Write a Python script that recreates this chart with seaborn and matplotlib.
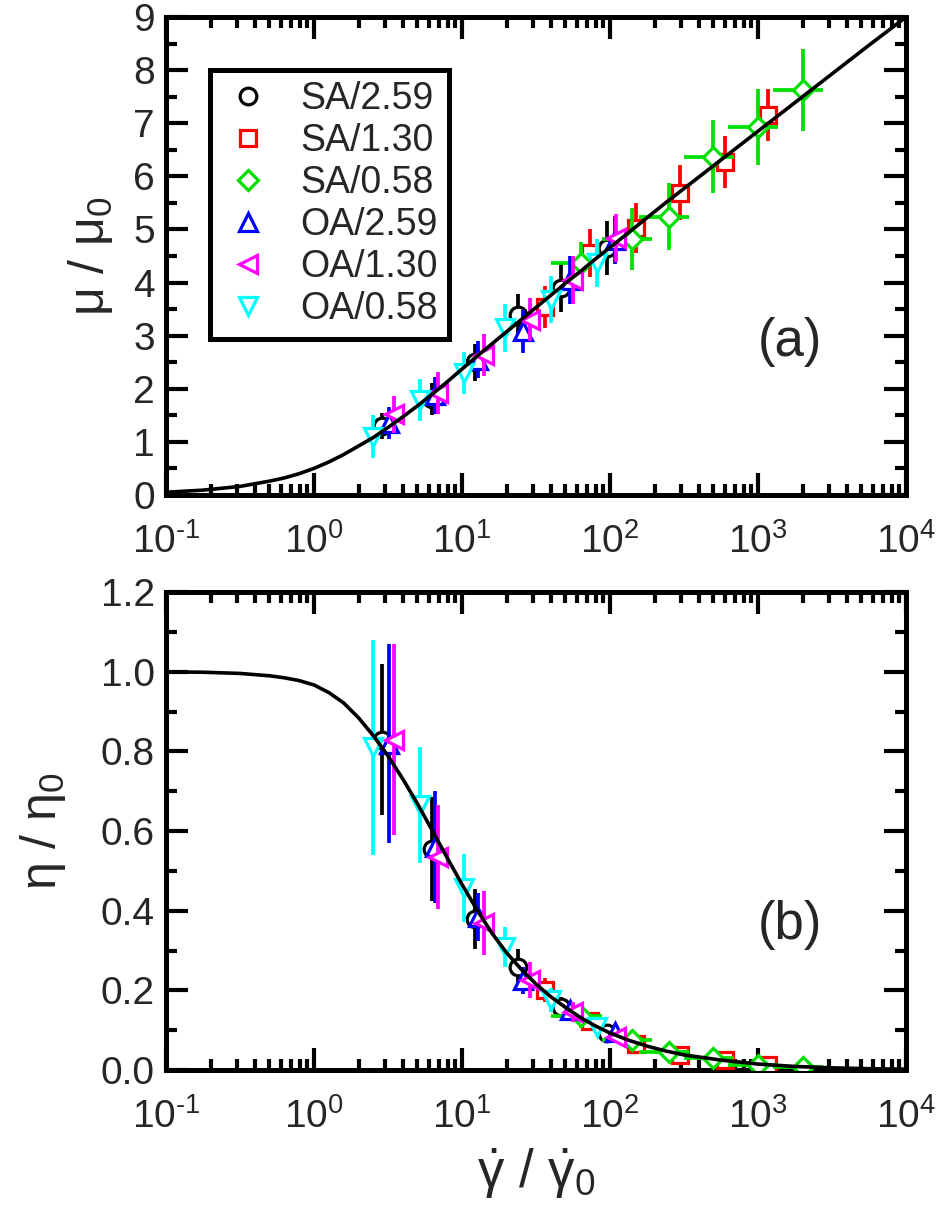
import numpy as np
import pandas as pd
import matplotlib
matplotlib.use("Agg")
import matplotlib.pyplot as plt
import seaborn as sns
from matplotlib.ticker import LogLocator, MultipleLocator, NullFormatter, FormatStrFormatter, FuncFormatter
from matplotlib.lines import Line2D

# ---------------- data ----------------
curve_x = [0.1, 0.178, 0.316, 0.501, 0.631, 0.794, 1.0, 1.259, 1.585, 1.995, 2.512, 3.162,
           3.981, 5.012, 6.31, 7.943, 10.0, 12.59, 15.85, 19.95, 25.12, 31.62, 39.81, 50.12,
           63.1, 79.43, 100.0, 133.4, 177.8, 237.1, 316.2, 562.3, 1000.0, 1778.0, 3162.0,
           5623.0, 10000.0]
curve_mu = [0.05, 0.09, 0.16, 0.26, 0.32, 0.40, 0.50, 0.62, 0.76, 0.92, 1.08, 1.27,
            1.47, 1.68, 1.90, 2.13, 2.37, 2.61, 2.84, 3.07, 3.30, 3.53, 3.76, 3.99,
            4.21, 4.44, 4.66, 4.94, 5.22, 5.50, 5.77, 6.31, 6.85, 7.39, 7.93,
            8.47, 9.0]
curve_eta = [1.000, 0.999, 0.996, 0.990, 0.985, 0.978, 0.967, 0.948, 0.922, 0.885, 0.840, 0.789,
             0.731, 0.668, 0.601, 0.533, 0.466, 0.403, 0.345, 0.295, 0.253, 0.216, 0.184, 0.157,
             0.132, 0.111, 0.093, 0.075, 0.060, 0.048, 0.038, 0.025, 0.015, 0.009, 0.0055,
             0.0033, 0.002]

labels = ["SA/2.59", "SA/1.30", "SA/0.58", "OA/2.59", "OA/1.30", "OA/0.58"]
colors = ["#000000", "#ff0000", "#00e000", "#0000ff", "#ff00ff", "#00ffff"]
markers = ["o", "s", "D", "^", "<", "v"]

sa259_x = [2.9, 6.3, 12.3, 24.0, 47.0, 96.0]
sa259_xerr = [0.1, 0.25, 0.5, 1.0, 2.0, 4.0]
sa259_mu = [1.30, 1.80, 2.50, 3.39, 3.90, 4.65]
sa259_mu_err = [0.25, 0.30, 0.35, 0.40, 0.45, 0.50]
sa259_eta = [0.83, 0.555, 0.38, 0.26, 0.158, 0.093]
sa259_eta_err = [0.19, 0.13, 0.075, 0.045, 0.025, 0.012]

sa130_x = [36.5, 73.0, 149.0, 297.0, 598.0, 1170.0]
sa130_xerr = [2.5, 5.0, 10.0, 20.0, 40.0, 80.0]
sa130_mu = [3.54, 4.56, 5.02, 5.69, 6.27, 7.16]
sa130_mu_err = [0.40, 0.45, 0.47, 0.52, 0.49, 0.49]
sa130_eta = [0.20, 0.122, 0.066, 0.039, 0.024, 0.012]
sa130_eta_err = [0.03, 0.018, 0.010, 0.006, 0.004, 0.002]

sa058_x = [64.0, 140.0, 250.0, 500.0, 1000.0, 2000.0]
sa058_xerr = [24.0, 52.0, 92.0, 185.0, 370.0, 740.0]
sa058_mu = [4.37, 4.82, 5.24, 6.37, 6.93, 7.63]
sa058_mu_err = [0.40, 0.58, 0.63, 0.69, 0.72, 0.77]
sa058_eta = [0.135, 0.075, 0.046, 0.030, 0.012, 0.007]
sa058_eta_err = [0.030, 0.012, 0.008, 0.005, 0.003, 0.002]

oa259_x = [3.2, 6.6, 12.8, 25.7, 54.0, 108.0]
oa259_xerr = [0.1, 0.25, 0.5, 1.0, 2.0, 4.0]
oa259_mu = [1.35, 1.88, 2.55, 3.08, 4.05, 4.80]
oa259_mu_err = [0.30, 0.35, 0.35, 0.40, 0.45, 0.45]
oa259_eta = [0.82, 0.56, 0.385, 0.225, 0.151, 0.095]
oa259_eta_err = [0.25, 0.14, 0.06, 0.035, 0.020, 0.012]

oa130_x = [3.45, 6.9, 14.0, 28.9, 56.0, 110.0]
oa130_xerr = [0.1, 0.25, 0.5, 1.0, 2.0, 4.0]
oa130_mu = [1.52, 1.92, 2.64, 3.30, 4.05, 4.84]
oa130_mu_err = [0.35, 0.40, 0.40, 0.40, 0.45, 0.45]
oa130_eta = [0.83, 0.535, 0.369, 0.226, 0.146, 0.083]
oa130_eta_err = [0.24, 0.13, 0.08, 0.045, 0.025, 0.013]

oa058_x = [2.5, 5.2, 10.3, 19.5, 40.0, 81.5]
oa058_xerr = [0.1, 0.2, 0.4, 0.8, 1.6, 3.0]
oa058_mu = [1.10, 1.79, 2.30, 3.15, 3.68, 4.37]
oa058_mu_err = [0.40, 0.40, 0.40, 0.45, 0.45, 0.45]
oa058_eta = [0.81, 0.666, 0.457, 0.31, 0.176, 0.108]
oa058_eta_err = [0.27, 0.145, 0.085, 0.05, 0.03, 0.015]

xs = [sa259_x, sa130_x, sa058_x, oa259_x, oa130_x, oa058_x]
xerrs = [sa259_xerr, sa130_xerr, sa058_xerr, oa259_xerr, oa130_xerr, oa058_xerr]
mus = [sa259_mu, sa130_mu, sa058_mu, oa259_mu, oa130_mu, oa058_mu]
mu_errs = [sa259_mu_err, sa130_mu_err, sa058_mu_err, oa259_mu_err, oa130_mu_err, oa058_mu_err]
etas = [sa259_eta, sa130_eta, sa058_eta, oa259_eta, oa130_eta, oa058_eta]
eta_errs = [sa259_eta_err, sa130_eta_err, sa058_eta_err, oa259_eta_err, oa130_eta_err, oa058_eta_err]
msizes = [12, 11.5, 10, 13, 13, 13]

# ---------------- style ----------------
sns.set_theme(style="ticks")
plt.rcParams['font.family'] = ['Liberation Sans', 'DejaVu Sans']
plt.rcParams['mathtext.fontset'] = 'custom'
plt.rcParams['mathtext.rm'] = 'Liberation Sans'
plt.rcParams['mathtext.it'] = 'Liberation Sans'
plt.rcParams['mathtext.bf'] = 'Liberation Sans:bold'
plt.rcParams['axes.unicode_minus'] = False


def log_fmt(v, pos):
    e = int(round(np.log10(v)))
    es = str(e).replace('-', '\u2010')
    return "$10^{" + es + "}$"


fig = plt.figure(figsize=(9.47, 12.19), dpi=100)
ax1 = fig.add_axes([0.1753, 0.594, 0.7814, 0.392])
ax2 = fig.add_axes([0.1753, 0.1222, 0.7814, 0.392])

curve_df = pd.DataFrame({"x": curve_x, "mu": curve_mu, "eta": curve_eta})

for ax, ys, yerrs, ycol in [(ax1, mus, mu_errs, "mu"), (ax2, etas, eta_errs, "eta")]:
    for i in range(6):
        ax.errorbar(xs[i], ys[i], xerr=xerrs[i], yerr=yerrs[i], fmt='none',
                    ecolor=colors[i], elinewidth=2.7, capsize=0, zorder=2 + 2 * i)
        ax.plot(xs[i], ys[i], linestyle='none', marker=markers[i], ms=msizes[i],
                mfc='white', mec=colors[i], mew=2.3, zorder=3 + 2 * i)
    sns.lineplot(data=curve_df, x="x", y=ycol, ax=ax, color="black", lw=2.6,
                 zorder=20, estimator=None, sort=False)
    ax.set_xscale("log")
    ax.set_xlim(0.1, 1e4)
    ax.xaxis.set_major_locator(LogLocator(base=10, numticks=20))
    ax.xaxis.set_major_formatter(FuncFormatter(log_fmt))
    ax.xaxis.set_minor_locator(LogLocator(base=10, subs=np.arange(2, 10), numticks=20))
    ax.xaxis.set_minor_formatter(NullFormatter())
    ax.tick_params(which='both', direction='in', top=True, right=True, labelsize=28,
                   width=3.0, color='black')
    ax.tick_params(which='major', length=16)
    ax.tick_params(which='minor', length=8)
    ax.tick_params(axis='x', pad=20)
    ax.tick_params(axis='y', pad=8)
    for s in ax.spines.values():
        s.set_linewidth(3.6)
        s.set_color('black')
    ax.set_xlabel("")
    ax.grid(False)

ax1.set_ylim(0, 9)
ax1.yaxis.set_major_locator(MultipleLocator(1))
ax1.yaxis.set_minor_locator(MultipleLocator(0.5))
ax1.set_ylabel(r"$\mu\ /\ \mu_0$", fontsize=36)
ax1.yaxis.set_label_coords(-0.069, 0.5)

ax2.set_ylim(0, 1.2)
ax2.yaxis.set_major_locator(MultipleLocator(0.2))
ax2.yaxis.set_minor_locator(MultipleLocator(0.1))
ax2.yaxis.set_major_formatter(FormatStrFormatter('%.1f'))
ax2.set_ylabel(r"$\eta\ /\ \eta_0$", fontsize=36)
ax2.yaxis.set_label_coords(-0.132, 0.5)
ax2.set_xlabel(r"$\dot{\gamma}\ /\ \dot{\gamma}_0$", fontsize=38)
ax2.xaxis.set_label_coords(0.5, -0.16)

ax1.text(0.843, 0.32, "(a)", transform=ax1.transAxes, fontsize=38, ha='center', va='center')
ax2.text(0.843, 0.303, "(b)", transform=ax2.transAxes, fontsize=38, ha='center', va='center')

handles = [Line2D([], [], linestyle='none', marker=markers[i], ms=msizes[i], mfc='white',
                  mec=colors[i], mew=2.3) for i in range(6)]
leg = ax1.legend(handles, labels, loc='upper left', bbox_to_anchor=(0.0595, 0.889),
                 borderaxespad=0, fontsize=27, frameon=True, fancybox=False,
                 edgecolor='black', framealpha=1, handlelength=1.44, handletextpad=0.67,
                 borderpad=0.3, labelspacing=0.16)
leg.get_frame().set_linewidth(3.6)

fig.savefig("out.png", dpi=100)
